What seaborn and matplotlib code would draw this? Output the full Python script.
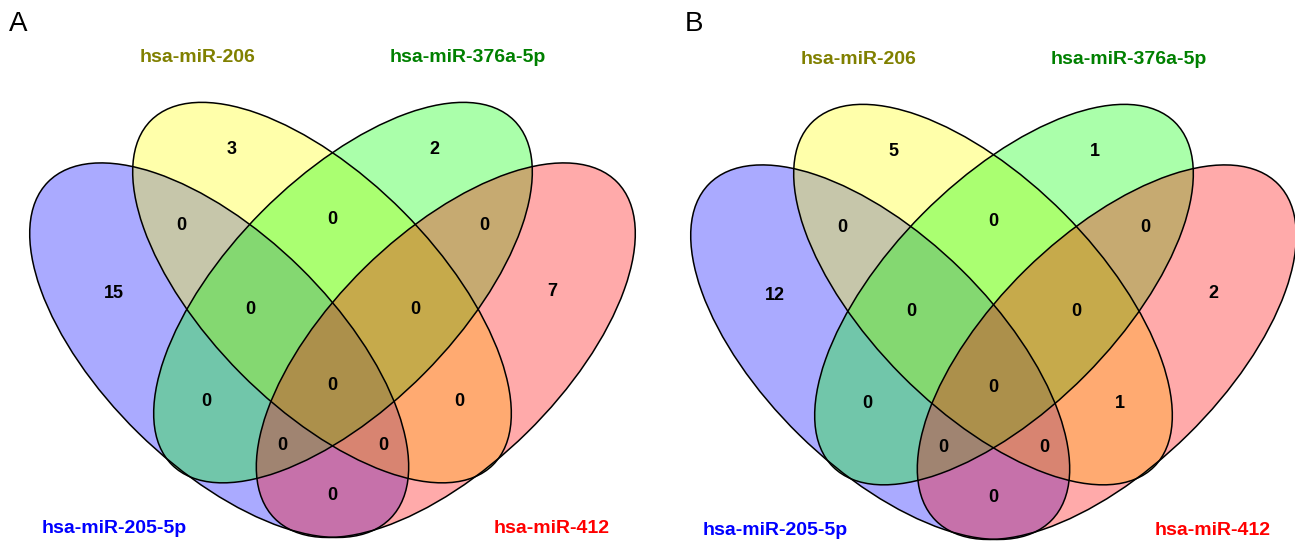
import matplotlib
matplotlib.use("Agg")
import matplotlib.pyplot as plt
from matplotlib.patches import Ellipse
import seaborn as sns

sns.set_theme(style="white")
plt.rcParams['font.family'] = ['Liberation Sans', 'DejaVu Sans']

# Sets, in drawing order
set_names = ["hsa-miR-205-5p", "hsa-miR-206", "hsa-miR-376a-5p", "hsa-miR-412"]
panels = ["A", "B"]

# Venn regions: which sets each region belongs to (1 = 205-5p, 2 = 206, 3 = 376a-5p, 4 = 412)
regions = ["1", "2", "3", "4", "12", "23", "34", "123", "234", "1234",
           "13", "24", "134", "124", "14"]
counts_a = [15, 3, 2, 7, 0, 0, 0, 0, 0, 0, 0, 0, 0, 0, 0]
counts_b = [12, 5, 1, 2, 0, 0, 0, 0, 0, 0, 0, 1, 0, 0, 0]

fill_colors = sns.color_palette(["#0000FF", "#FFFF00", "#00FF00", "#FF0000"])
label_colors = ["#0000FF", "#808000", "#008000", "#FF0000"]

# Ellipse geometry of one panel (canvas units, y down): centre, full axes, angle
ellipses = [
    ((219.2, 350.2), 480.0, 231.4, 44.46),    # 205-5p
    ((322.0, 292.6), 485.4, 229.2, 45.22),    # 206
    ((343.0, 292.6), 485.4, 229.2, -45.22),   # 376a-5p
    ((445.8, 350.2), 480.0, 231.4, -44.46),   # 412
]
draw_order = [0, 1, 2, 3]

# Count label anchors per region
count_pos = {
    "1": (114, 291), "2": (232, 147), "3": (434, 147), "4": (552, 290),
    "12": (181, 223), "23": (332, 218), "34": (484, 223),
    "123": (250, 307), "234": (415, 307), "1234": (332, 383),
    "13": (206, 400), "24": (459, 400), "134": (282, 444), "124": (383, 444),
    "14": (332, 493),
}
name_pos = [(114, 533), (198, 62), (468, 62), (552, 533)]

panel_shift = [(0, 0), (661, 2)]
letter_pos = [(9, 31), (685, 31)]

fig = plt.figure(figsize=(12.95, 5.41), dpi=100)
ax = fig.add_axes([0, 0, 1, 1])
ax.set_xlim(0, 1295)
ax.set_ylim(541, 0)
ax.axis("off")

for p, counts in enumerate([counts_a, counts_b]):
    dx, dy = panel_shift[p]
    for i in draw_order:
        (cx, cy), w, h, ang = ellipses[i]
        ax.add_patch(Ellipse((cx + dx, cy + dy), w, h, angle=ang,
                             facecolor=(*fill_colors[i], 1 / 3), edgecolor="none", zorder=1))
    for i in draw_order:
        (cx, cy), w, h, ang = ellipses[i]
        ax.add_patch(Ellipse((cx + dx, cy + dy), w, h, angle=ang,
                             facecolor="none", edgecolor="black", lw=1.1, zorder=2))
    for reg, n in zip(regions, counts):
        x, y = count_pos[reg]
        ax.text(x + dx, y + dy + 6.5, str(n), ha="center", va="baseline",
                fontsize=13, fontweight="bold", color="black", zorder=3)
    for i, name in enumerate(set_names):
        x, y = name_pos[i]
        ax.text(x + dx, y + dy, name, ha="center", va="baseline", fontsize=14,
                fontweight="bold", color=label_colors[i], zorder=3)
    lx, ly = letter_pos[p]
    ax.text(lx, ly, panels[p], ha="left", va="baseline", fontsize=20, color="black")

fig.savefig("out.png", dpi=100)
